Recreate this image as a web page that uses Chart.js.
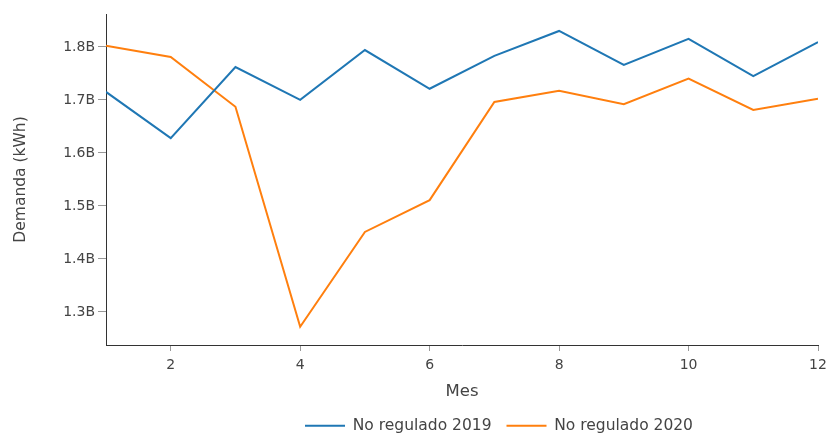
<!DOCTYPE html>
<html>
<head>
<meta charset="utf-8">
<script src="https://cdn.jsdelivr.net/npm/chart.js@4/dist/chart.umd.min.js"></script>
<style>
  html, body { margin: 0; padding: 0; background: #fff; }
  #wrap { width: 829px; height: 433px; }
</style>
</head>
<body>
<div id="wrap"><canvas id="demandChart" width="829" height="433"></canvas></div>
<script>
// Datos
const meses = [1, 2, 3, 4, 5, 6, 7, 8, 9, 10, 11, 12];
const demanda2019 = [1.715e9, 1.628e9, 1.762e9, 1.700e9, 1.794e9, 1.721e9, 1.783e9, 1.830e9, 1.766e9, 1.815e9, 1.745e9, 1.809e9];
const demanda2020 = [1.802e9, 1.781e9, 1.687e9, 1.272e9, 1.451e9, 1.511e9, 1.696e9, 1.717e9, 1.692e9, 1.740e9, 1.681e9, 1.702e9];
const ticksX = [2, 4, 6, 8, 10, 12];
const ticksY = [1.3e9, 1.4e9, 1.5e9, 1.6e9, 1.7e9, 1.8e9];

const fuente = 'DejaVu Sans, Verdana, sans-serif';
const texto = '#444';

const toPoints = vals => meses.map((m, i) => ({ x: m, y: vals[i] }));

// Leyenda: altura fija y desplazada a la derecha como en el original
const legendLayout = {
    id: 'legendLayout',
    beforeLayout(chart) {
        const legend = chart.legend;
        if (!legend || legend._patched) return;
        const fit = legend.fit;
        legend.fit = function () {
            fit.call(this);
            this.height = 30;
        };
        legend._patched = true;
    },
    afterLayout(chart) {
        chart.legend.left = 180;
    }
};

new Chart(document.getElementById('demandChart'), {
    type: 'line',
    data: {
        datasets: [{
            label: 'No regulado 2019',
            data: toPoints(demanda2019),
            borderColor: '#1f77b4',
            backgroundColor: '#1f77b4',
            borderWidth: 2,
            pointRadius: 0,
            tension: 0
        }, {
            label: 'No regulado 2020',
            data: toPoints(demanda2020),
            borderColor: '#ff7f0e',
            backgroundColor: '#ff7f0e',
            borderWidth: 2,
            pointRadius: 0,
            tension: 0
        }]
    },
    plugins: [legendLayout],
    options: {
        responsive: false,
        animation: false,
        layout: { padding: { top: 14, right: 11, left: 0, bottom: 0 } },
        plugins: {
            tooltip: { enabled: false },
            legend: {
                position: 'bottom',
                labels: {
                    usePointStyle: true,
                    pointStyle: 'line',
                    pointStyleWidth: 40,
                    color: texto,
                    font: { family: fuente, size: 15.5 },
                    padding: 15
                }
            }
        },
        scales: {
            x: {
                type: 'linear',
                min: 1,
                max: 12,
                afterBuildTicks: axis => { axis.ticks = ticksX.map(v => ({ value: v })); },
                afterFit: axis => { axis.height = 58; axis.paddingRight = 0; axis.paddingLeft = 0; },
                ticks: { color: texto, font: { family: fuente, size: 14 }, padding: 6 },
                grid: { drawOnChartArea: false, tickLength: 6, color: '#999' },
                border: { color: '#333', width: 1 },
                title: { display: true, text: 'Mes', color: texto, font: { family: fuente, size: 16.5 }, padding: { top: 4, bottom: 1 } }
            },
            y: {
                min: 1.2377e9,
                max: 1.862e9,
                afterBuildTicks: axis => { axis.ticks = ticksY.map(v => ({ value: v })); },
                afterFit: axis => { axis.width = 106; },
                ticks: {
                    color: texto,
                    font: { family: fuente, size: 14 },
                    padding: 3,
                    callback: v => (v / 1e9).toFixed(1) + 'B'
                },
                grid: { drawOnChartArea: false, tickLength: 8, color: '#999' },
                border: { color: '#333', width: 1 },
                title: { display: true, text: 'Demanda (kWh)', color: texto, font: { family: fuente, size: 15.5 }, padding: { top: 12, bottom: 0 } }
            }
        }
    }
});
</script>
</body>
</html>
